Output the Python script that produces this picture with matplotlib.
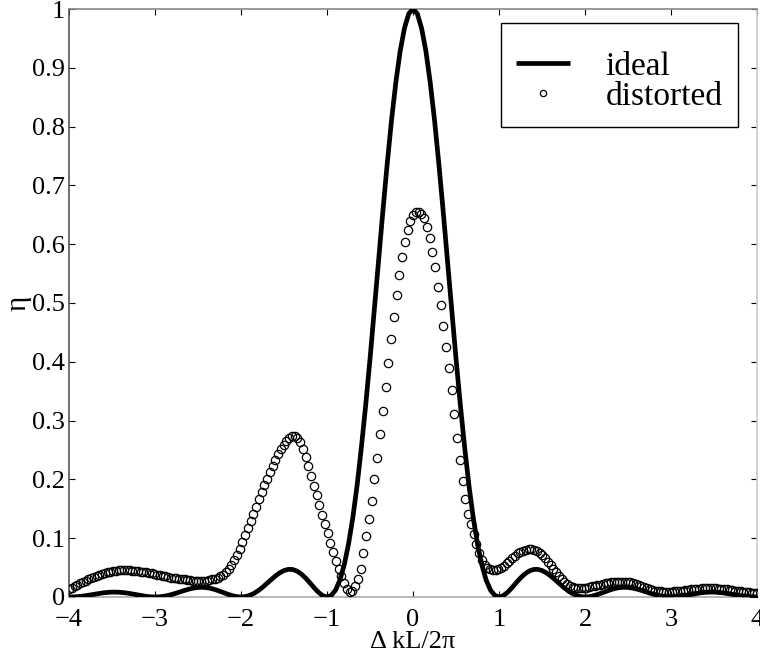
import matplotlib
matplotlib.use("Agg")
import matplotlib.pyplot as plt
import numpy as np

# ideal curve at steps of 0.05 in x
x_ideal = np.round(np.arange(-4.0, 4.0001, 0.05), 3)
ideal_pos = [
    1.0, 0.992, 0.967, 0.928, 0.875, 0.811, 0.737, 0.657, 0.573, 0.488,
    0.405, 0.327, 0.255, 0.190, 0.135, 0.090, 0.0547, 0.0289, 0.0119, 0.0028,
    0.0, 0.0023, 0.0080, 0.0158, 0.0243, 0.0324, 0.0392, 0.0441, 0.0468, 0.0470,
    0.0450, 0.0411, 0.0358, 0.0295, 0.0229, 0.0165, 0.0108, 0.0061, 0.0027, 0.0007,
    0.0, 0.0006, 0.0022, 0.0045, 0.0072, 0.0100, 0.0125, 0.0146, 0.0159, 0.0165,
    0.0162, 0.0152, 0.0136, 0.0115, 0.0091, 0.0067, 0.0045, 0.0026, 0.0012, 0.0003,
    0.0, 0.0003, 0.0010, 0.0021, 0.0034, 0.0048, 0.0061, 0.0072, 0.0079, 0.0083,
    0.0083, 0.0078, 0.0071, 0.0060, 0.0048, 0.0036, 0.0024, 0.0014, 0.0006, 0.0002,
    0.0,
]
ideal = ideal_pos[:0:-1] + ideal_pos

# distorted points, spacing 0.032 from -4 to 4
x_dist = np.round(np.arange(251) * 0.032 - 4.0, 3)
distorted = [
    0.014, 0.016, 0.018, 0.020, 0.023, 0.025, 0.027, 0.030, 0.032, 0.034,
    0.036, 0.038, 0.039, 0.041, 0.042, 0.043, 0.044, 0.045, 0.046, 0.046,
    0.046, 0.046, 0.046, 0.045, 0.045, 0.044, 0.043, 0.042, 0.042, 0.041,
    0.040, 0.039, 0.038, 0.037, 0.036, 0.035, 0.034, 0.033, 0.032, 0.032,
    0.031, 0.030, 0.030, 0.029, 0.029, 0.028, 0.028, 0.028, 0.028, 0.028,
    0.028, 0.029, 0.030, 0.031, 0.033, 0.035, 0.038, 0.042, 0.048, 0.055,
    0.063, 0.072, 0.082, 0.093, 0.105, 0.117, 0.129, 0.141, 0.153, 0.166,
    0.178, 0.190, 0.201, 0.212, 0.223, 0.233, 0.243, 0.252, 0.259, 0.266,
    0.271, 0.274, 0.274, 0.271, 0.263, 0.252, 0.238, 0.222, 0.206, 0.189,
    0.173, 0.157, 0.140, 0.124, 0.108, 0.092, 0.077, 0.062, 0.048, 0.035,
    0.024, 0.014, 0.009, 0.011, 0.019, 0.031, 0.048, 0.074, 0.104, 0.132,
    0.163, 0.200, 0.237, 0.277, 0.317, 0.357, 0.398, 0.438, 0.477, 0.514,
    0.548, 0.578, 0.603, 0.624, 0.639, 0.649, 0.654, 0.655, 0.652, 0.645,
    0.630, 0.610, 0.587, 0.561, 0.528, 0.497, 0.461, 0.426, 0.389, 0.352,
    0.312, 0.270, 0.233, 0.197, 0.166, 0.141, 0.124, 0.107, 0.090, 0.075,
    0.063, 0.055, 0.050, 0.047, 0.046, 0.046, 0.048, 0.050, 0.053, 0.057,
    0.062, 0.066, 0.070, 0.074, 0.077, 0.079, 0.080, 0.081, 0.081, 0.080,
    0.078, 0.075, 0.071, 0.066, 0.060, 0.054, 0.048, 0.042, 0.036, 0.031,
    0.026, 0.022, 0.019, 0.017, 0.016, 0.015, 0.015, 0.015, 0.016, 0.017,
    0.018, 0.019, 0.020, 0.021, 0.022, 0.023, 0.024, 0.025, 0.025, 0.026,
    0.026, 0.026, 0.026, 0.025, 0.025, 0.024, 0.022, 0.021, 0.019, 0.017,
    0.015, 0.014, 0.012, 0.011, 0.010, 0.010, 0.009, 0.009, 0.009, 0.009,
    0.010, 0.010, 0.011, 0.011, 0.012, 0.012, 0.013, 0.013, 0.014, 0.014,
    0.015, 0.015, 0.015, 0.015, 0.015, 0.015, 0.014, 0.014, 0.013, 0.013,
    0.012, 0.012, 0.011, 0.010, 0.010, 0.009, 0.008, 0.008, 0.007, 0.007,
    0.006,
]

x_ticks = [-4, -3, -2, -1, 0, 1, 2, 3, 4]
x_ticklabels = ["\u22124", "\u22123", "\u22122", "\u22121", "0", "1", "2", "3", "4"]
y_ticks = [0, 0.1, 0.2, 0.3, 0.4, 0.5, 0.6, 0.7, 0.8, 0.9, 1]
y_ticklabels = ["0", "0.1", "0.2", "0.3", "0.4", "0.5", "0.6", "0.7", "0.8", "0.9", "1"]

plt.rcParams["font.family"] = ["Liberation Serif", "DejaVu Serif"]

fig = plt.figure(figsize=(7.6, 6.62), dpi=100)
ax = fig.add_axes([0.0908, 0.0982, 0.9053, 0.8882])

ax.plot(x_ideal, ideal, color="black", linewidth=3.4, solid_capstyle="butt",
        label="ideal", zorder=3)
ax.plot(x_dist, distorted, linestyle="none", marker="o", markersize=6.0,
        markerfacecolor="none", markeredgecolor="black", markeredgewidth=0.9,
        label="distorted", zorder=4)

ax.set_xlim(-4, 4)
ax.set_ylim(0, 1)
ax.set_xticks(x_ticks)
ax.set_xticklabels(x_ticklabels)
ax.set_yticks(y_ticks)
ax.set_yticklabels(y_ticklabels)
ax.tick_params(direction="in", length=4.5, width=0.8, top=True, right=True,
               labelsize=19, pad=3)
ax.tick_params(axis="x", pad=9)

ax.spines["left"].set_color("#555555")
ax.spines["bottom"].set_color("#aaaaaa")
ax.spines["top"].set_color("#888888")
ax.spines["right"].set_color("#cccccc")
for s in ax.spines.values():
    s.set_linewidth(1.2)

ax.set_xlabel("\u0394 kL/2\u03c0", fontsize=19, labelpad=0)
ax.set_ylabel("\u03b7", fontsize=21, labelpad=0)

# blank title only adds the extra room above the rows
leg = ax.legend(loc="upper right", bbox_to_anchor=(0.972, 0.976),
                borderaxespad=0, fontsize=24, handlelength=1.64,
                handletextpad=1.06, borderpad=0.45, labelspacing=0.0,
                markerscale=0.75, fancybox=False, framealpha=1,
                title=" ", title_fontsize=10)
leg.get_frame().set_edgecolor("black")
leg.get_frame().set_linewidth(1.0)

fig.savefig("out.png", dpi=100)
